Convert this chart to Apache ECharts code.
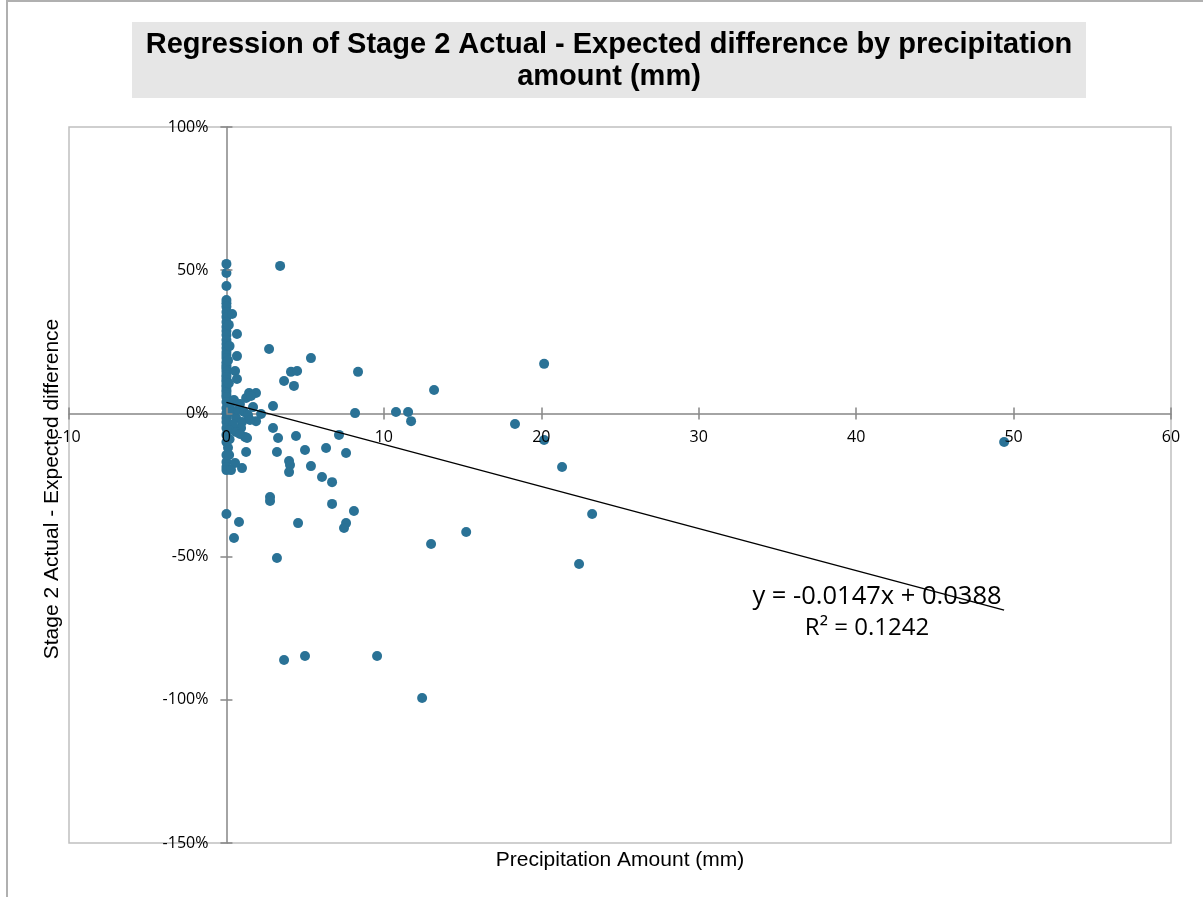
<!DOCTYPE html>
<html>
<head>
<meta charset="utf-8">
<script src="https://cdn.jsdelivr.net/npm/echarts@6/dist/echarts.min.js"></script>
<style>
    html, body { margin: 0; padding: 0; background: #fff; }
    #chart { width: 1203px; height: 897px; }
</style>
</head>
<body>
<div id="chart"></div>
<script>
// precipitation (mm) and actual - expected difference (%) for each observation
var precipMm = [
    0, 0, 0, 0, 0, 0, 0, 0, 0, 0,
    0, 0, 0, 0, 0, 0, 0, 0, 0, 0,
    0, 0, 0, 0, 0, 0, 0, 0, 0, 0,
    0, 0, 0, 0, 0, 0, 0, 0, 0, 0,
    0, 0, 0, 0, 0, 0,
    0.15, 0.2, 0.1, 0.15, 0.2, 0.1,
    0.36, 0.67, 0.67, 0.55, 0.67, 1.44, 1.88, 2.71, 3.41, 5.37,
    4.10, 4.49, 3.66, 4.29, 8.36, 13.19, 2.96, 2.20, 8.17, 10.77,
    11.54, 11.73, 1.88, 2.96, 3.28, 4.42, 7.15, 1.25, 3.21, 4.99,
    6.33, 7.60, 3.98, 4.04, 3.98, 0.99, 5.37, 6.07, 6.71, 6.71,
    8.10, 7.60, 7.47, 2.77, 2.77, 4.55, 0.80, 0.48, 3.21, 13.0,
    3.66, 4.99, 9.57, 12.43, 20.18, 18.33, 20.18, 21.32, 23.23, 15.23,
    22.40, 49.4,
    0.23, 0.36, 0.48, 0.61, 0.74, 0.86, 0.99, 1.12, 1.25, 1.37,
    1.56, 1.50, 1.18, 0.93, 0.42, 0.17, 0.61, 1.31, 0.17, 0.55,
    0.29, 0.86, 1.69
];
var diffPct = [
    52.2, 49.0, 44.5, 39.6, 38.5, 37.2, 35.4, 33.7, 31.9, 30.2,
    28.8, 27.4, 25.6, 24.2, 22.8, 21.4, 20.4, 19.3, 17.9, 16.9,
    16.2, 15.5, 14.5, 13.4, 12.7, 11.7, 11.0, 9.9, 9.2, 8.2,
    7.5, 6.4, 5.7, 4.0, 1.9, 0.1, -1.6, -3.0, -5.1, -7.5,
    -10.0, -14.5, -17.0, -18.7, -19.8, -35.1,
    30.9, 23.5, 18.5, 10.5, -9.0, -12.0,
    34.7, 27.7, 20.0, 14.8, 12.0, 7.1, 7.1, 22.5, 51.5, 19.3,
    14.5, 14.8, 11.3, 9.6, 14.5, 8.2, 2.6, -0.2, 0.1, 0.5,
    0.5, -2.7, -2.7, -5.1, -8.6, -7.9, -7.5, -13.5, -13.5, -12.8,
    -12.1, -13.8, -16.6, -18.0, -20.5, -19.1, -18.4, -22.2, -24.0, -31.6,
    -34.1, -38.3, -40.0, -29.2, -30.6, -38.3, -37.9, -43.5, -50.5, -45.6,
    -86.1, -84.7, -84.7, -99.4, 17.3, -3.7, -9.3, -18.7, -35.1, -41.4,
    -52.6, -10.0,
    2.9, 0.5, 4.7, -1.6, 1.2, 3.3, -3.0, 0.5, 5.4, -0.6,
    6.1, -2.3, -8.2, -5.1, -4.0, -5.8, -6.5, -8.6, -14.5, -17.3,
    -19.8, -7.2, 2.2
];
// linear trend line end points (y = -0.0147x + 0.0388)
var trendX = [0, 49.4];
var trendY = [3.88, -68.7];
var xTicks = { min: -10, max: 60, step: 10 };
var yTicks = { min: -150, max: 100, step: 50 };

var points = precipMm.map(function (x, i) { return [x, diffPct[i]]; });
var trend = trendX.map(function (x, i) { return [x, trendY[i]]; });

// plot area box; axes cross at zero inside it (Excel style)
var gridBox = { left: 69, top: 127, width: 1102, height: 716 };
var xAxisOffset = -gridBox.height * (0 - yTicks.min) / (yTicks.max - yTicks.min);
var yAxisOffset = -gridBox.width * (0 - xTicks.min) / (xTicks.max - xTicks.min);

var axisGray = '#868686';
var labelStyle = { color: '#000', fontSize: 16, fontFamily: 'Open Sans' };

// each axis is drawn twice: lower one has the line + outer ticks (under the dots),
// upper one has the inner ticks + labels (over the dots), so ticks cross the line
function makeAxis(dim, ticks, offset, top) {
    var ax = {
        type: 'value',
        position: dim === 'x' ? 'bottom' : 'left',
        offset: offset,
        min: ticks.min, max: ticks.max, interval: ticks.step,
        z: top ? 10 : 0,
        axisLine: { show: !top, onZero: false, lineStyle: { color: axisGray, width: 1.5 } },
        axisTick: { show: true, inside: !!top, length: 6, lineStyle: { color: axisGray, width: 1.5 } },
        axisLabel: Object.assign({
            show: !!top,
            margin: dim === 'x' ? 16 : 18,
            showMinLabel: true,
            showMaxLabel: true
        }, labelStyle),
        splitLine: { show: false }
    };
    if (dim === 'y') ax.axisLabel.formatter = '{value}%';
    return ax;
}

var myChart = echarts.init(document.getElementById('chart'));
var option = {
    animation: false,
    backgroundColor: '#fff',
    grid: {
        left: gridBox.left, top: gridBox.top,
        width: gridBox.width, height: gridBox.height,
        show: true,
        borderColor: '#c0c0c0',
        borderWidth: 1.5,
        backgroundColor: '#fff'
    },
    xAxis: [makeAxis('x', xTicks, xAxisOffset, false), makeAxis('x', xTicks, xAxisOffset, true)],
    yAxis: [makeAxis('y', yTicks, yAxisOffset, false), makeAxis('y', yTicks, yAxisOffset, true)],
    series: [
        {
            name: 'difference',
            type: 'scatter',
            symbol: 'circle',
            symbolSize: 10,
            itemStyle: { color: '#2a7296', opacity: 1 },
            data: points,
            z: 2
        },
        {
            name: 'trend',
            type: 'line',
            symbol: 'none',
            silent: true,
            lineStyle: { color: '#000', width: 1.3 },
            data: trend,
            z: 3
        }
    ],
    graphic: [
        {
            type: 'rect', z: -1,
            shape: { x: 7, y: 1, width: 1260, height: 960 },
            style: { fill: 'none', stroke: '#b0b0b0', lineWidth: 2 }
        },
        {
            type: 'rect',
            shape: { x: 132, y: 22, width: 954, height: 76 },
            style: { fill: '#e6e6e6' }
        },
        {
            type: 'text',
            style: {
                text: 'Regression of Stage 2 Actual - Expected difference by precipitation\namount (mm)',
                x: 609, y: 61,
                align: 'center', verticalAlign: 'middle',
                font: 'bold 29px "Liberation Sans", Arial, sans-serif',
                lineHeight: 32,
                fill: '#000'
            }
        },
        {
            type: 'text',
            x: 52, y: 489,
            rotation: Math.PI / 2,
            style: {
                text: 'Stage 2 Actual - Expected difference',
                x: 0, y: 0,
                align: 'center', verticalAlign: 'middle',
                font: '21px "Liberation Sans", Arial, sans-serif',
                fill: '#000'
            }
        },
        {
            type: 'text',
            style: {
                text: 'Precipitation Amount (mm)',
                x: 620, y: 860,
                align: 'center', verticalAlign: 'middle',
                font: '21px "Liberation Sans", Arial, sans-serif',
                fill: '#000'
            }
        },
        {
            type: 'text',
            style: {
                text: 'y = -0.0147x + 0.0388',
                x: 877, y: 597,
                align: 'center', verticalAlign: 'middle',
                font: '25.5px "Open Sans", sans-serif',
                fill: '#000'
            }
        },
        {
            type: 'text',
            style: {
                text: 'R² = 0.1242',
                x: 867, y: 628,
                align: 'center', verticalAlign: 'middle',
                font: '24px "Open Sans", sans-serif',
                fill: '#000'
            }
        }
    ]
};
myChart.setOption(option, true);
window.addEventListener('resize', function () {
    myChart.resize();
});
</script>
</body>
</html>
